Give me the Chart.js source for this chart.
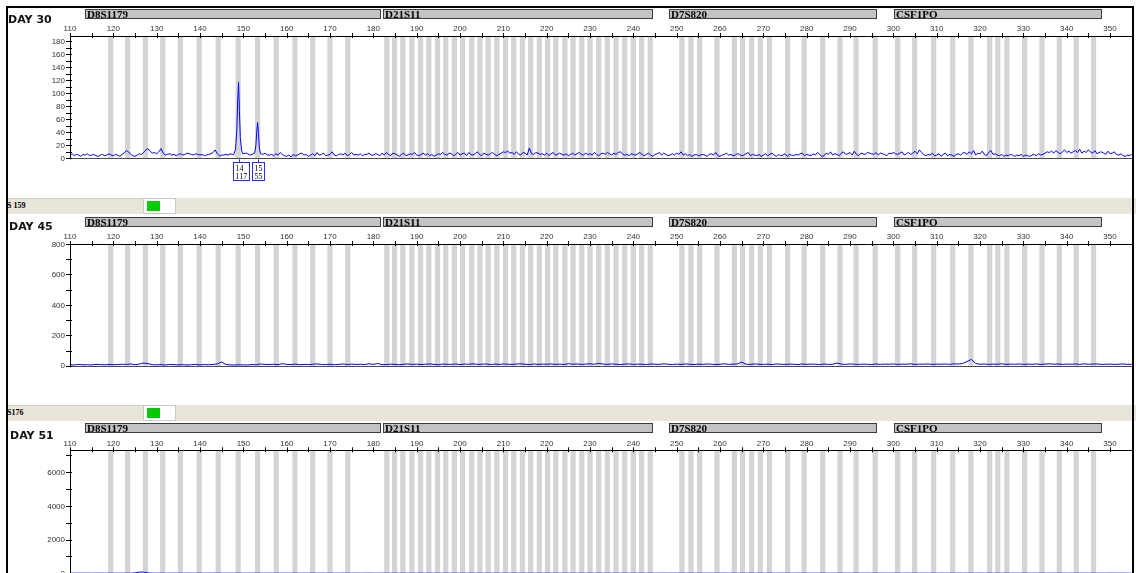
<!DOCTYPE html>
<html>
<head>
<meta charset="utf-8">
<title>STR electropherogram</title>
<script src="https://cdn.jsdelivr.net/npm/chart.js"></script>
<style>
  html, body { margin: 0; padding: 0; background: #fff; }
  #page { position: relative; width: 1136px; height: 573px; overflow: hidden; background: #fff; }
  #page canvas { position: absolute; left: 0; }
  .band { position: absolute; left: 7px; width: 1129px; height: 16px; background: #e9e5d9; }
  .band .name { position: absolute; left: 0; top: 0; width: 136px; height: 16px; box-sizing: border-box;
                border-top: 1px solid #d2cec2; font: bold 8px "Liberation Serif", serif; line-height: 14px; color: #000;
                white-space: nowrap; overflow: hidden; }
  .band .swatch { position: absolute; left: 136px; top: 0; width: 33px; height: 16px; box-sizing: border-box;
                  background: #fff; border: 1px solid #c9c9c9; }
  .band .swatch i { position: absolute; left: 3px; top: 2px; width: 13px; height: 10px; background: #00cc00; }
  #frame { position: absolute; left: 6px; top: 6px; width: 1128px; height: 640px; box-sizing: border-box;
           border-left: 2px solid #000; border-top: 2px solid #000; border-right: 2px solid #000;
           pointer-events: none; z-index: 5; }
</style>
</head>
<body>
<div id="page">
  <canvas id="day30" width="1136" height="195" style="top:0px"></canvas>
  <div class="band" style="top:198px"><div class="name">S 159</div><div class="swatch"><i></i></div></div>
  <canvas id="day45" width="1136" height="180" style="top:214px"></canvas>
  <div class="band" style="top:405px"><div class="name">S176</div><div class="swatch"><i></i></div></div>
  <canvas id="day51" width="1136" height="178" style="top:422px"></canvas>
  <div id="frame"></div>
</div>
<script>
// ---- size axis (bp) ----
const sizeMin = 110;
const sizeMax = 355.3;
const sizeTickStep = 5;
const sizeLabelStep = 10;

// ---- sample labels ----
const dayLabels = ['DAY 30', 'DAY 45', 'DAY 51'];

// ---- STR markers (header bars) ----
const markerNames = ['D8S1179', 'D21S11', 'D7S820', 'CSF1PO'];
const markerStart = [113.5, 182.2, 248.2, 300.2];
const markerEnd   = [181.8, 244.5, 296.2, 348.1];

// ---- allele bins (bp) ----
const binsD8S1179 = [119.4, 123.3, 127.4, 131.4, 135.45, 139.8, 144.2, 148.8, 153.3, 157.6, 161.9, 166.0, 170.0, 174.1];
const binsD21S11 = [183.1, 184.9, 186.8, 188.9, 190.9, 192.8, 194.8, 196.7, 198.7, 200.6, 202.7, 204.6, 206.5, 208.5,
                    210.5, 212.4, 214.4, 216.3, 218.3, 220.2, 222.1, 224.2, 226.1, 228.1, 230.0, 232.0, 234.0, 236.0,
                    238.0, 240.0, 241.9, 243.9];
const binsD7S820 = [251.2, 253.3, 255.3, 259.3, 263.3, 265.2, 267.3, 269.3, 271.4, 275.6, 279.4, 283.7, 287.7, 291.4, 295.8];
const binsCSF1PO = [301.0, 304.9, 309.3, 313.7, 317.9, 322.2, 324.1, 326.2, 330.3, 334.3, 338.3, 342.2, 346.2];
const binHalfWidth = 0.6;

// ---- called alleles (DAY 30) ----
const alleleNames = ['14', '15'];
const peakSizes   = [148.9, 153.3];
const peakHeights = [117, 55];

// ---- peak profiles (DAY 30) ----
const peak14Sizes = [147.8, 148.2, 148.5, 148.7, 148.9, 149.1, 149.3, 149.6, 149.9];
const peak14Rfu   = [6, 14, 45, 88, 117, 72, 32, 12, 7];
const peak15Sizes = [152.6, 152.9, 153.1, 153.3, 153.5, 153.7, 154.0];
const peak15Rfu   = [8, 20, 42, 55, 38, 15, 7];

// ---- baseline traces ----
// DAY 30: one reading every 0.5 bp from 110 bp
const day30Step = 0.5;
const day30Rfu = [
  5,7,4,6,5,3,6,5,7,4,5,6,4,3,5,6,4,5,7,5,
  4,6,5,3,6,8,12,10,6,4,3,5,7,6,9,13,15,11,8,9,
  7,10,15,8,5,6,7,5,6,4,6,7,5,6,8,7,6,5,7,6,
  5,6,4,5,6,7,9,13,7,4,5,5,6,5,7,6,4,5,6,4,
  6,8,7,5,6,9,7,8,5,6,8,5,5,6,4,7,5,9,6,4,
  3,5,2,6,4,5,7,8,5,6,3,5,7,4,9,5,6,8,4,5,
  6,10,5,4,6,7,5,8,4,6,9,5,6,5,7,4,6,6,8,5,
  5,7,6,4,8,5,9,6,4,8,7,5,3,6,8,4,5,7,6,9,
  5,4,6,8,5,7,4,6,3,5,7,6,9,6,5,8,7,4,6,9,
  5,7,8,4,9,6,5,7,10,6,4,8,6,5,7,9,6,4,6,8,
  10,9,11,8,9,6,10,7,5,9,8,5,16,7,6,9,8,6,7,5,
  8,4,7,9,5,6,8,6,5,7,4,6,8,5,7,9,6,5,8,6,
  7,5,9,6,4,7,8,6,9,7,5,8,6,9,10,7,5,6,4,7,
  6,5,7,9,6,4,6,8,5,3,6,7,9,5,8,6,4,5,7,5,
  8,6,10,5,7,4,6,3,5,6,4,5,6,5,3,6,7,5,9,4,
  3,5,6,8,5,6,4,5,7,6,4,5,7,9,4,6,5,4,6,3,
  5,7,4,6,8,5,3,6,4,5,7,3,6,5,4,6,5,7,8,4,
  6,5,4,7,5,9,6,3,4,8,6,10,5,7,6,4,8,10,6,7,
  9,5,11,6,4,8,7,6,9,8,7,6,9,5,8,7,6,4,8,7,
  9,7,6,8,10,5,7,9,6,8,11,7,13,9,6,4,6,5,8,4,
  5,7,3,6,8,4,6,5,3,6,7,5,8,9,6,10,7,12,5,8,
  7,11,6,4,9,12,6,7,5,4,6,3,5,4,6,5,3,5,4,6,
  3,5,4,3,5,6,4,7,5,6,8,10,9,11,8,12,9,7,10,13,
  9,11,8,10,12,9,14,8,11,9,13,10,8,12,7,9,10,8,6,11,
  7,8,10,6,5,7,4,3,5,4,6
];

// DAY 45: one reading per bp from 110 bp
const day45Step = 1;
const day45Rfu = [
  8,5,9,6,7,5,10,8,6,9,
  7,8,10,9,12,7,11,18,14,7,
  6,8,5,9,7,6,8,5,7,9,
  6,8,7,9,12,25,8,6,5,7,
  6,5,8,7,12,9,8,10,7,14,
  9,8,11,7,9,8,10,12,9,8,
  10,7,9,12,8,11,9,10,8,13,
  9,15,7,8,11,9,7,10,12,9,
  11,8,10,12,9,7,11,10,9,12,
  8,11,10,13,9,10,12,8,11,9,
  12,10,9,11,13,10,8,12,9,11,
  10,12,9,11,8,14,10,12,9,11,
  13,10,16,11,9,12,10,8,11,12,
  9,11,10,8,12,10,9,13,10,8,
  11,9,12,10,8,11,9,12,10,8,
  10,13,9,11,12,24,10,9,12,10,
  9,11,8,12,10,9,11,10,8,12,
  9,11,10,8,12,9,10,18,11,9,
  12,10,9,11,10,8,12,9,11,10,
  12,9,11,10,13,9,11,10,12,9,
  11,10,12,9,13,11,15,28,42,15,
  10,12,9,11,10,13,9,11,10,12,
  9,11,10,12,9,11,13,10,12,9,
  11,10,12,9,13,10,11,12,9,10,
  11,9,10,12,9,10
];

// DAY 51: one reading per bp from 110 bp
const day51Step = 1;
const day51Rfu = [
  4,2,6,3,5,2,4,6,3,5,
  2,4,3,6,2,20,70,65,20,5,
  3,6,2,4,5,3,2,6,4,3,
  5,2,4,6,3,5,2,4,3,6,
  2,5,3,4,6,2,5,3,4,2,
  6,3,5,2,4,3,6,2,5,4,
  3,5,2,6,4,3,5,2,4,6,
  3,2,5,4,3,6,2,4,5,3,
  4,6,2,5,3,4,2,6,3,5,
  2,4,6,3,5,2,4,3,6,2,
  5,3,4,6,2,5,3,4,2,6,
  3,5,2,4,3,6,2,5,4,3,
  5,2,6,4,3,5,2,4,6,3,
  2,5,4,3,6,2,4,5,3,4,
  6,2,5,3,4,2,6,3,5,2,
  4,6,3,5,2,4,3,6,2,5,
  3,4,6,2,5,3,4,2,6,3,
  5,2,4,3,6,2,5,4,3,5,
  2,6,4,3,5,2,4,6,3,2,
  5,4,3,6,2,4,5,3,4,6,
  2,5,3,4,2,6,3,5,2,4,
  6,3,5,2,4,3,6,2,5,3,
  4,6,2,5,3,4,2,6,3,5,
  2,4,3,6,2,5,4,3,5,2,
  6,4,3,5,2,4
];

// ---- per-panel intensity axes (RFU) ----
const rfuMin       = [-1.5, -10, -400];
const rfuMax       = [188.2, 800, 7300];
const rfuTickStep  = [10, 100, 1000];
const rfuLabelStep = [20, 200, 2000];

// ---- helpers ----
const allBins = [].concat(binsD8S1179, binsD21S11, binsD7S820, binsCSF1PO);
const axisFont = '8px "Liberation Sans", Arial, sans-serif';

function gridPoints(values, step, skipRanges) {
  const pts = [];
  values.forEach((v, i) => {
    const x = sizeMin + i * step;
    if (skipRanges.some(r => x >= r[0] && x <= r[1])) return;
    pts.push({ x: x, y: v });
  });
  return pts;
}

function mergeTrace(base, shapes) {
  const pts = base.slice();
  shapes.forEach(s => s.sizes.forEach((x, i) => pts.push({ x: x, y: s.rfu[i] })));
  pts.sort((a, b) => a.x - b.x);
  return pts;
}

// evenly spaced ticks anchored at zero, kept inside [min, max]
function zeroAnchoredTicks(min, max, step) {
  const out = [];
  for (let k = Math.ceil(min / step); k * step <= max + 1e-9; k++) out.push({ value: k * step });
  return out;
}

const crisp = v => Math.round(v) + 0.5;
const isMultiple = (v, step) => Math.abs(v / step - Math.round(v / step)) < 1e-6;

function gelPlugin(cfg) {
  return {
    id: 'gel' + cfg.index,
    beforeDatasetsDraw(chart) {
      const { ctx, chartArea: a, scales: { x } } = chart;
      ctx.save();
      ctx.beginPath();
      ctx.rect(a.left, a.top, a.right - a.left, a.bottom - a.top);
      ctx.clip();
      ctx.fillStyle = '#d4d4d4';
      allBins.forEach(c => {
        const l = x.getPixelForValue(c - binHalfWidth);
        const r = x.getPixelForValue(c + binHalfWidth);
        ctx.fillRect(l, a.top, r - l, a.bottom - a.top);
      });
      ctx.restore();
    },
    afterDraw(chart) {
      const { ctx, chartArea: a, scales: { x, y } } = chart;
      ctx.save();
      // plot frame
      ctx.lineWidth = 1;
      ctx.strokeStyle = '#4a4a4a';
      ctx.beginPath();
      ctx.moveTo(a.left, crisp(a.bottom) - 1);
      ctx.lineTo(a.right, crisp(a.bottom) - 1);
      ctx.stroke();
      ctx.strokeStyle = '#000';
      ctx.beginPath();
      ctx.moveTo(a.left, crisp(a.top));
      ctx.lineTo(a.right, crisp(a.top));
      ctx.moveTo(crisp(a.left), a.top);
      ctx.lineTo(crisp(a.left), a.bottom);
      ctx.moveTo(crisp(a.right) - 1, a.top);
      ctx.lineTo(crisp(a.right) - 1, a.bottom);
      ctx.stroke();
      // tick marks crossing the axes
      ctx.beginPath();
      x.ticks.forEach(t => {
        const px = crisp(x.getPixelForValue(t.value));
        ctx.moveTo(px, a.top - 3);
        ctx.lineTo(px, a.top + 2);
      });
      y.ticks.forEach(t => {
        const py = crisp(y.getPixelForValue(t.value));
        ctx.moveTo(a.left - 4, py);
        ctx.lineTo(a.left + 2, py);
      });
      ctx.stroke();

      // intensity labels
      ctx.font = axisFont;
      ctx.fillStyle = '#333';
      ctx.textAlign = 'right';
      ctx.textBaseline = 'middle';
      y.ticks.forEach(t => {
        if (!isMultiple(t.value, rfuLabelStep[cfg.index])) return;
        ctx.fillText(String(t.value), a.left - 5, y.getPixelForValue(t.value) + 0.5);
      });

      // marker header bars
      const barTop = Math.round(a.top) - 27;
      ctx.textAlign = 'left';
      ctx.textBaseline = 'alphabetic';
      markerNames.forEach((name, i) => {
        const l = Math.round(x.getPixelForValue(markerStart[i]));
        const r = Math.round(x.getPixelForValue(markerEnd[i]));
        ctx.fillStyle = '#c3c3c3';
        ctx.fillRect(l, barTop, r - l, 10);
        ctx.strokeStyle = '#3c3c3c';
        ctx.strokeRect(l + 0.5, barTop + 0.5, r - l - 1, 9);
        ctx.fillStyle = '#000';
        ctx.font = 'bold 11px "Liberation Serif", serif';
        ctx.fillText(name, l + 2, barTop + 8.5);
      });

      // sample label
      ctx.fillStyle = '#111';
      ctx.font = 'bold 11px "DejaVu Sans", sans-serif';
      ctx.fillText(cfg.day, cfg.dayX, a.top - cfg.dayLift);

      // allele call boxes
      if (cfg.calls) {
        ctx.font = '8px "Liberation Serif", serif';
        peakSizes.forEach((s, i) => {
          const px = x.getPixelForValue(s);
          const lines = [alleleNames[i], String(peakHeights[i])];
          const w = Math.max(...lines.map(t => ctx.measureText(t).width)) + 4;
          const bx = Math.round(px - 6) + 0.5;
          const by = Math.round(a.bottom + 3) + 0.5;
          ctx.strokeStyle = '#2b2bff';
          ctx.beginPath();
          ctx.moveTo(crisp(px), a.bottom);
          ctx.lineTo(crisp(px), by);
          ctx.stroke();
          ctx.strokeRect(bx, by, Math.round(w), 18);
          ctx.fillStyle = '#000';
          ctx.fillText(lines[0], bx + 2, by + 8);
          ctx.fillText(lines[1], bx + 2, by + 16.5);
        });
      }
      ctx.restore();
    }
  };
}

function makePanel(canvasId, index, points, layout) {
  const cfg = { index: index, day: dayLabels[index], dayX: layout.dayX, dayLift: layout.dayLift, calls: layout.calls };
  const tickFont = { family: '"Liberation Sans", Arial, sans-serif', size: 8 };
  return new Chart(document.getElementById(canvasId), {
    type: 'line',
    data: {
      datasets: [{
        data: points,
        borderColor: '#0000ff',
        borderWidth: 1,
        pointRadius: 0,
        tension: 0,
        fill: false
      }]
    },
    options: {
      responsive: false,
      animation: false,
      devicePixelRatio: 1,
      layout: { padding: { left: 0, right: 3, top: layout.padTop, bottom: layout.padBottom } },
      plugins: { legend: { display: false }, tooltip: { enabled: false } },
      scales: {
        x: {
          type: 'linear',
          position: 'top',
          min: sizeMin,
          max: sizeMax,
          grid: { display: false, drawTicks: false },
          border: { display: false },
          ticks: {
            stepSize: sizeTickStep,
            includeBounds: false,
            autoSkip: false,
            maxRotation: 0,
            padding: 2,
            color: '#333',
            font: tickFont,
            callback: v => (isMultiple(v, sizeLabelStep) ? String(v) : '')
          },
          afterBuildTicks: s => { s.ticks = zeroAnchoredTicks(sizeMin, sizeMax, sizeTickStep); },
          afterFit: s => { s.height = 14; }
        },
        y: {
          type: 'linear',
          min: rfuMin[index],
          max: rfuMax[index],
          grid: { display: false, drawTicks: false },
          border: { display: false },
          ticks: { display: false, autoSkip: false },
          afterBuildTicks: s => { s.ticks = zeroAnchoredTicks(rfuMin[index], rfuMax[index], rfuTickStep[index]); },
          afterFit: s => { s.width = 70; }
        }
      }
    },
    plugins: [gelPlugin(cfg)]
  });
}

// DAY 30 trace with the two called peaks
const peakShapes = [
  { sizes: peak14Sizes, rfu: peak14Rfu },
  { sizes: peak15Sizes, rfu: peak15Rfu }
];
const peakRanges = peakShapes.map(s => [s.sizes[0] - 0.1, s.sizes[s.sizes.length - 1] + 0.1]);
const day30Trace = mergeTrace(gridPoints(day30Rfu, day30Step, peakRanges), peakShapes);
const day45Trace = gridPoints(day45Rfu, day45Step, []);
const day51Trace = gridPoints(day51Rfu, day51Step, []);

makePanel('day30', 0, day30Trace, { padTop: 22, padBottom: 35.7, dayX: 8, dayLift: 13, calls: true });
makePanel('day45', 1, day45Trace, { padTop: 16, padBottom: 26.7, dayX: 9, dayLift: 14, calls: false });
makePanel('day51', 2, day51Trace, { padTop: 14.3, padBottom: 20, dayX: 10, dayLift: 11.5, calls: false });
</script>
</body>
</html>
